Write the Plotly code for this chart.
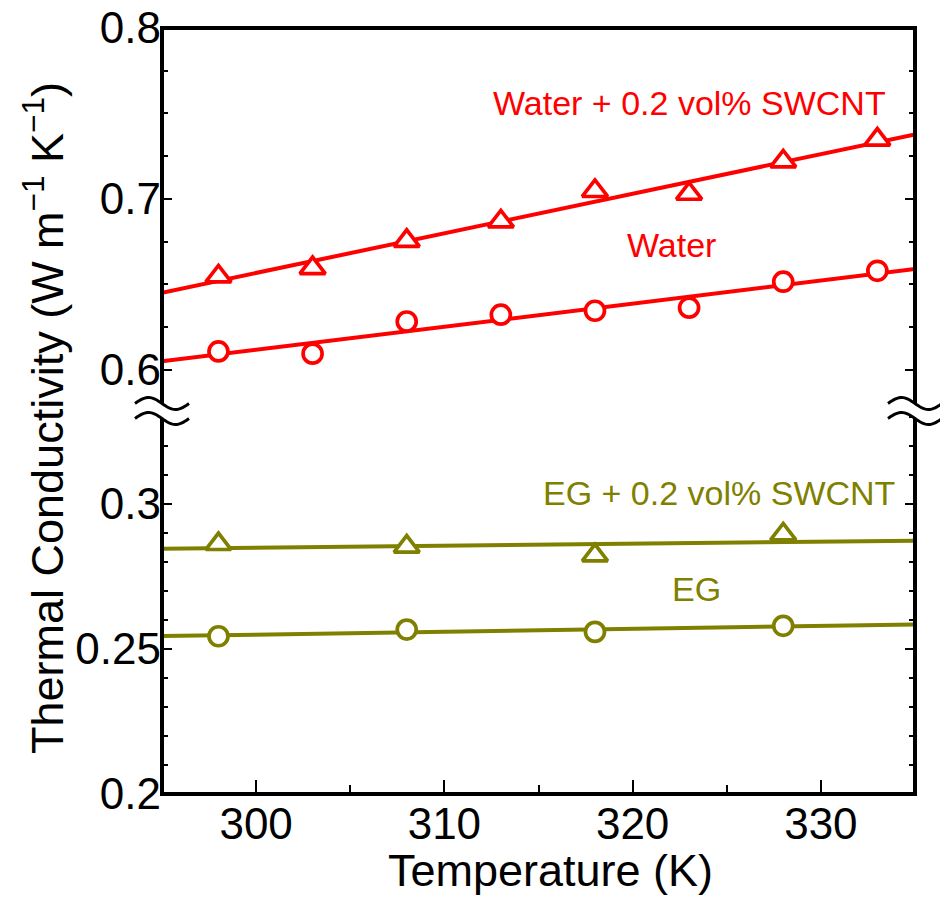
import numpy as np
import plotly.graph_objects as go

# Temperature (K)
t_water = [298, 303, 308, 313, 318, 323, 328, 333]
t_eg = [298, 308, 318, 328]

# Thermal conductivity (W m^-1 K^-1)
k_water = [0.6107, 0.6094, 0.6282, 0.6322, 0.6345, 0.6363, 0.6515, 0.6579]
k_water_swcnt = [0.6546, 0.6595, 0.6754, 0.6868, 0.7046, 0.7030, 0.7219, 0.7347]
k_eg = [0.2544, 0.2567, 0.2559, 0.2580]
k_eg_swcnt = [0.2862, 0.2853, 0.2823, 0.2895]

x_range = [295, 335]
upper_range = [0.57583, 0.8]
lower_range = [0.2, 0.33207]

RED = "#FF0000"
OLIVE = "#808000"
FONT = "Liberation Sans, Arial, sans-serif"

# plot-area geometry in pixels (used for the frame / axis-break decoration)
W, H = 940, 900
L, R, T, B = 162, 25, 28, 106
PW, PH = W - L - R, H - T - B


def px(xp):
    return (xp - L) / PW


def py(yp):
    return (H - B - yp) / PH


fig = go.Figure()

MARKER_SIZE = {"circle": 19, "triangle-up": 22}


def add_series(t, k, color, symbol, yaxis):
    slope, icpt = np.polyfit(t, k, 1)
    xs = np.array(x_range, dtype=float)
    fig.add_trace(go.Scatter(
        x=xs, y=slope * xs + icpt, mode="lines", yaxis=yaxis,
        line=dict(color=color, width=4), hoverinfo="skip"))
    fig.add_trace(go.Scatter(
        x=t, y=k, mode="markers", yaxis=yaxis,
        marker=dict(symbol=symbol, size=MARKER_SIZE[symbol],
                    color="white", line=dict(color=color, width=3.7))))


add_series(t_water, k_water, RED, "circle", "y2")
add_series(t_water, k_water_swcnt, RED, "triangle-up", "y2")
add_series(t_eg, k_eg, OLIVE, "circle", "y")
add_series(t_eg, k_eg_swcnt, OLIVE, "triangle-up", "y")

tick_common = dict(ticks="inside", tickwidth=2, tickcolor="black",
                   showgrid=False, zeroline=False, showline=False,
                   automargin=False,
                   tickfont=dict(family=FONT, size=44, color="black"))

fig.update_layout(
    width=W, height=H,
    margin=dict(l=L, r=R, t=T, b=B, pad=0, autoexpand=False),
    plot_bgcolor="white", paper_bgcolor="white",
    showlegend=False,
    font=dict(family=FONT, color="black"),
    xaxis=dict(range=x_range, tick0=300, dtick=10, ticklen=14, anchor="y",
               minor=dict(tick0=300, dtick=5, ticks="inside", ticklen=9,
                          tickwidth=2, tickcolor="black"),
               **tick_common),
    yaxis=dict(domain=[0, 0.5], range=lower_range, tick0=0.2, dtick=0.05,
               ticklen=10, mirror="ticks", anchor="x",
               minor=dict(tick0=0.2, dtick=0.01, ticks="inside", ticklen=6,
                          tickwidth=2, tickcolor="black"),
               **tick_common),
    yaxis2=dict(domain=[0.5, 1], range=upper_range, tick0=0.6, dtick=0.1,
                ticklen=10, mirror="ticks", anchor="x",
                minor=dict(tick0=0.6, dtick=0.025, ticks="inside", ticklen=6,
                           tickwidth=2, tickcolor="black"),
                **tick_common),
)

# series labels
labels = [
    ("Water + 0.2 vol% SWCNT", 323.0, 0.7563, "y2", RED),
    ("Water", 322.04, 0.6732, "y2", RED),
    ("EG + 0.2 vol% SWCNT", 324.6, 0.3038, "y", OLIVE),
    ("EG", 323.38, 0.2707, "y", OLIVE),
]
for text, x, y, yref, color in labels:
    fig.add_annotation(text=text, x=x, y=y, xref="x", yref=yref,
                       showarrow=False, xanchor="center", yanchor="middle",
                       font=dict(family=FONT, size=34, color=color))

# axis titles
fig.add_annotation(text="Temperature (K)", x=px(550), y=py(870),
                   xref="paper", yref="paper", showarrow=False,
                   xanchor="center", yanchor="middle",
                   font=dict(family=FONT, size=45, color="black"))
fig.add_annotation(text="Thermal Conductivity (W m<sup>\u22121</sup> K<sup>\u22121</sup>)",
                   x=px(44), y=py(418), xref="paper", yref="paper",
                   showarrow=False, textangle=-90,
                   xanchor="center", yanchor="middle",
                   font=dict(family=FONT, size=45, color="black"))

# frame
shapes = [dict(type="rect", xref="paper", yref="paper", x0=0, x1=1, y0=0, y1=1,
               line=dict(color="black", width=4), fillcolor="rgba(0,0,0,0)",
               layer="above")]

# axis-break marks on both sides
BREAK_Y = H - B - 0.5 * PH


def wave(cx, cy, half=27, amp=6, n=40):
    xs = np.linspace(cx - half, cx + half, n)
    ys = cy - amp * np.sin(2 * np.pi * (xs - (cx - half)) / (2 * half))
    return xs, ys


def path_from(xs, ys, close=False):
    pts = [f"{px(x):.5f},{py(y):.5f}" for x, y in zip(xs, ys)]
    p = "M" + " L".join(pts)
    return p + " Z" if close else p


for cx in (L, W - R):
    gap = 15
    xa, ya = wave(cx, BREAK_Y - gap / 2)
    xb, yb = wave(cx, BREAK_Y + gap / 2)
    fill_x = np.concatenate([xa, xb[::-1]])
    fill_y = np.concatenate([ya, yb[::-1]])
    shapes.append(dict(type="path", xref="paper", yref="paper",
                       path=path_from(fill_x, fill_y, close=True),
                       fillcolor="white", line=dict(width=0), layer="above"))
    for xs, ys in ((xa, ya), (xb, yb)):
        shapes.append(dict(type="path", xref="paper", yref="paper",
                           path=path_from(xs, ys),
                           line=dict(color="black", width=3), layer="above"))

fig.update_layout(shapes=shapes)

fig.write_html("out.html")
